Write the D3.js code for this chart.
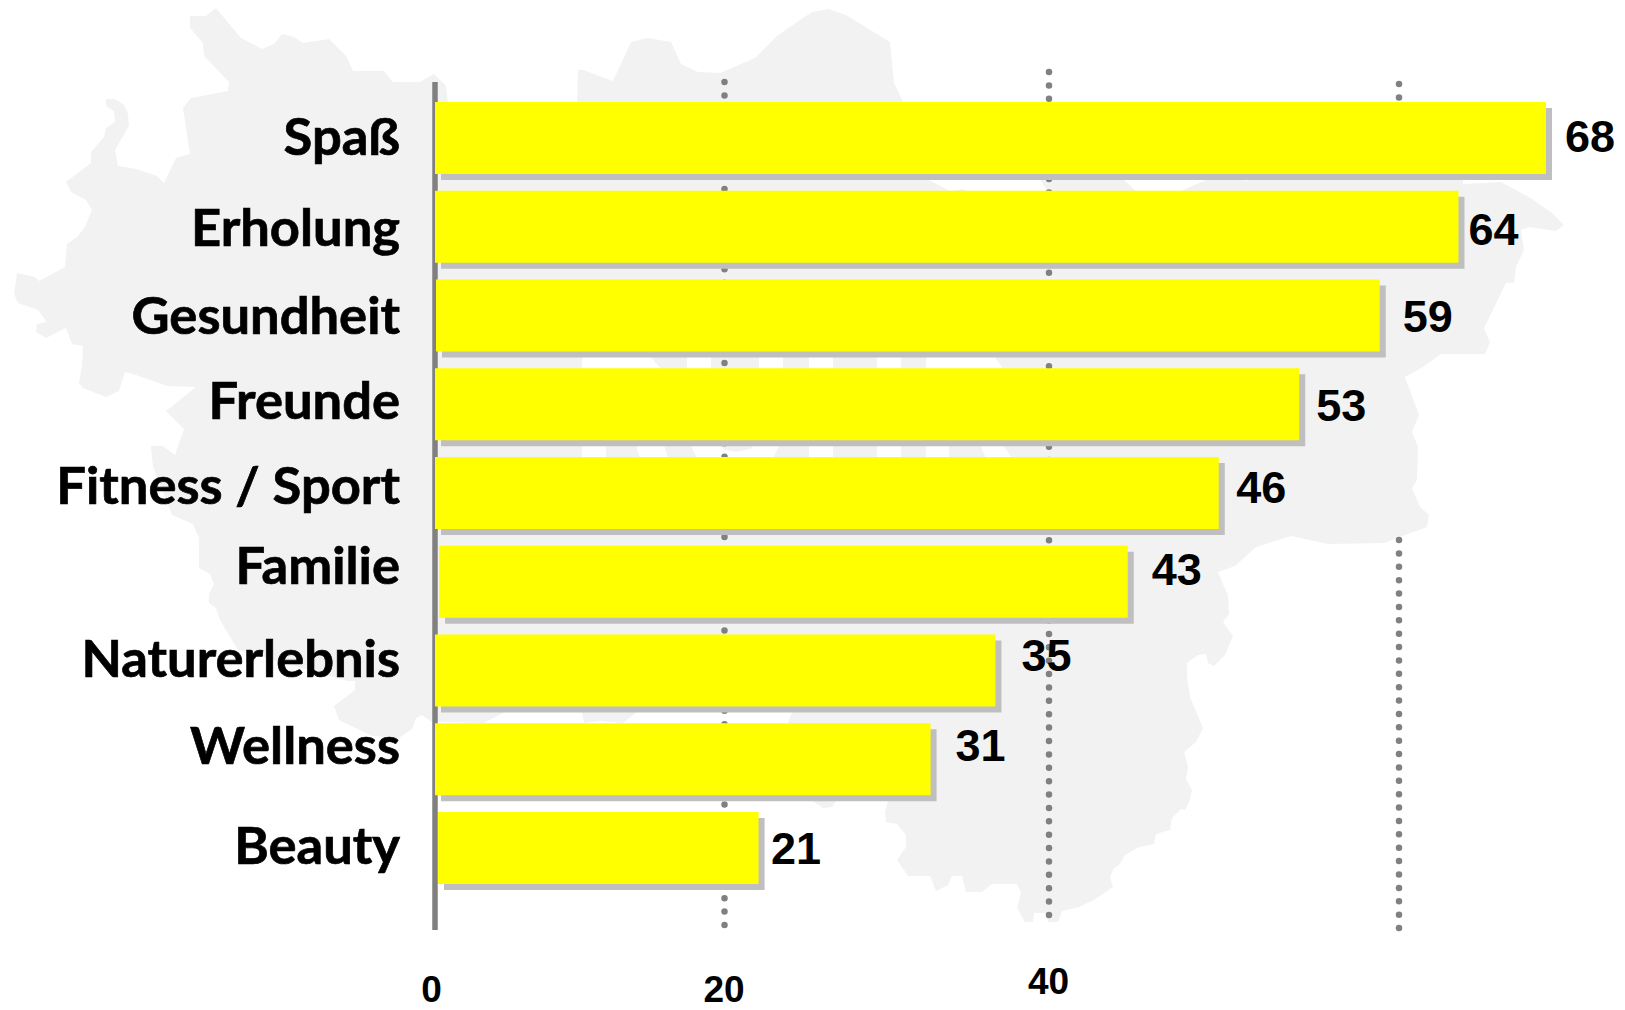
<!DOCTYPE html>
<html lang="de">
<head>
<meta charset="utf-8">
<title>Motive</title>
<script src="https://cdn.jsdelivr.net/npm/d3@7"></script>
<style>
  body { margin: 0; background: #fff; }
  svg { display: block; }
  .cat-axis text { font-family: Lato, sans-serif; font-weight: 700; font-size: 52.5px; fill: #000; stroke: #000; stroke-width: 0.7px; }
  .value-label { font-family: "Liberation Sans", Arial, sans-serif; font-weight: 700; font-size: 45px; fill: #000; }
  .num-axis text { font-family: "Liberation Sans", Arial, sans-serif; font-weight: 700; font-size: 37px; fill: #000; }
</style>
</head>
<body>
<div id="chart"></div>
<script>
const categories = ["Spaß", "Erholung", "Gesundheit", "Freunde", "Fitness / Sport", "Familie", "Naturerlebnis", "Wellness", "Beauty"];
// printed on the chart
const valueLabels = [68, 64, 59, 53, 46, 43, 35, 31, 21];
// where the bars really end / start against the axis, the bars were drawn by hand
const barEnds = [68.4, 63.4, 58.9, 54.3, 49.7, 44.5, 36.7, 32.7, 22.1];
const barStarts = [0, 0, 0.07, 0, 0, 0.28, 0, 0, 0.21];
const tickValues = [0, 20, 40, 60];
const tickLabels = ["0", "20", "40", ""];

// label placement, the source has no regular offsets
const catLabelDy = [17, 19, 18, 15, 11, 2, 6, 5, 16];
const valueLabelDx = [19, 10, 23, 17, 17.5, 24, 26, 25, 12.5];
const valueLabelDy = [14, 18, 16, 17, 10, 3, 0, 2, 16];
const tickLabelDx = [-4, -1, -1, 0];
const tickLabelBaseline = [1002, 1002, 994, 994];
// [tick, top, bottom] of each dotted run, the 60 line is broken in the source
const gridRuns = [[20, 82, 926], [40, 72, 916], [60, 84, 100], [60, 540, 929]];

// background map, traced
const mapOutline = [
  [434,74],[446,86],[448,103],[577,103],[578,70],[583,70],[613,81],[631,42],[648,38],[671,42],[681,64],[698,72],[720,73],
  [755,58],[777,36],[800,20],[812,12],[828,9],[846,15],[890,42],[894,83],[903,102],[927,179],[950,191],[963,189],[970,193],
  [1048,193],[1040,179],[1060,130],[1105,130],[1123,179],[1138,193],[1176,193],[1208,179],[1240,170],[1246,182],[1252,170],
  [1463,170],[1463,184],[1501,182],[1529,197],[1552,213],[1564,225],[1556,231],[1529,227],[1521,230],[1524,250],[1516,267],
  [1514,283],[1506,283],[1484,328],[1490,342],[1485,354],[1441,354],[1423,367],[1405,377],[1419,415],[1412,432],[1418,447],
  [1417,480],[1412,488],[1420,507],[1429,515],[1427,527],[1384,543],[1328,544],[1291,536],[1256,547],[1235,566],[1218,572],
  [1228,596],[1229,614],[1223,622],[1233,636],[1225,655],[1214,666],[1208,663],[1206,654],[1198,655],[1187,663],[1187,677],
  [1190,697],[1203,728],[1196,742],[1184,752],[1188,767],[1186,779],[1192,790],[1189,802],[1185,810],[1181,809],[1172,818],
  [1170,830],[1156,834],[1154,844],[1139,847],[1125,855],[1120,864],[1114,868],[1110,877],[1113,887],[1094,900],[1079,907],
  [1062,911],[1058,922],[1048,922],[1045,913],[1034,913],[1033,922],[1025,922],[1017,908],[1021,893],[1017,884],[992,884],
  [982,892],[966,892],[962,876],[952,876],[948,885],[936,891],[930,876],[908,876],[897,860],[906,847],[906,835],[897,824],
  [886,822],[885,812],[888,801],[870,780],[850,780],[836,801],[832,807],[823,808],[813,801],[800,760],[788,723],[792,712],
  [780,700],[650,700],[637,712],[623,723],[600,721],[584,723],[582,712],[575,700],[530,700],[505,712],[484,723],[438,722],
  [432,722],[422,715],[416,718],[412,729],[399,738],[372,736],[339,720],[334,706],[355,690],[355,681],[348,681],[238,650],
  [220,620],[216,608],[209,603],[209,594],[214,584],[210,574],[199,568],[199,538],[193,524],[172,515],[153,467],[151,446],
  [163,446],[175,455],[184,429],[166,411],[196,387],[167,386],[136,375],[125,372],[119,391],[106,397],[83,388],[79,383],
  [82,365],[83,346],[72,344],[66,328],[46,338],[36,332],[37,324],[47,322],[38,310],[18,303],[14,294],[17,273],[35,277],
  [39,281],[65,267],[67,244],[77,237],[85,227],[92,210],[86,200],[71,192],[66,182],[91,163],[91,152],[104,137],[106,128],
  [115,122],[114,111],[106,106],[106,99],[115,99],[124,105],[128,114],[129,126],[115,150],[118,166],[136,169],[157,176],
  [164,183],[176,158],[190,154],[183,108],[191,98],[228,91],[229,82],[204,56],[203,43],[190,28],[190,16],[206,16],[216,8],
  [241,38],[262,49],[274,44],[282,34],[294,37],[303,43],[329,39],[346,56],[353,71],[384,71],[393,82],[420,82]
];
// white lettering cut out of the map, mostly hidden by the bars
const mapHoles = [
  [[582,350],[645,350],[662,370],[606,430],[606,458],[582,458]],
  [[635,441],[663,441],[668,458],[640,458]],
  [[687,350],[711,350],[711,370],[687,370]],
  [[759,350],[783,350],[783,370],[759,370]],
  [[690,444],[717,444],[725,450],[737,452],[750,449],[756,444],[780,444],[773,458],[697,458]],
  [[809,350],[833,350],[833,458],[809,458]],
  [[877,350],[901,350],[901,458],[877,458]],
  [[926,350],[990,350],[1004,370],[949,410],[949,458],[926,458]],
  [[978,441],[1000,441],[1012,458],[986,458]]
];

const width = 1625;
const height = 1010;
const shadowOffset = 6;

const svg = d3.select("#chart").append("svg")
  .attr("width", width)
  .attr("height", height);

// the axis of the source is not evenly spaced, so the scale has a stop per tick
const x = d3.scaleLinear()
  .domain(tickValues)
  .range([435, 724.5, 1049, 1399]);

const y = d3.scaleBand()
  .domain(categories)
  .range([102, 884])
  .paddingInner(16.75 / 88.75)
  .paddingOuter(0);

const line = d3.line();

// map
svg.append("path")
  .attr("d", line(mapOutline) + "Z")
  .attr("fill", "#f2f2f2");
svg.selectAll(".map-hole")
  .data(mapHoles)
  .join("path")
  .attr("class", "map-hole")
  .attr("d", d => line(d) + "Z")
  .attr("fill", "#fff");

// dotted grid
svg.selectAll(".grid")
  .data(gridRuns)
  .join("line")
  .attr("class", "grid")
  .attr("x1", d => x(d[0]))
  .attr("x2", d => x(d[0]))
  .attr("y1", d => d[1])
  .attr("y2", d => d[2])
  .attr("stroke", "#808080")
  .attr("stroke-width", 6.5)
  .attr("stroke-linecap", "round")
  .attr("stroke-dasharray", "0 13.38");

// vertical axis line
svg.append("line")
  .attr("x1", x(0))
  .attr("x2", x(0))
  .attr("y1", 82)
  .attr("y2", 930)
  .attr("stroke", "#808080")
  .attr("stroke-width", 5.5);

// shadows, then bars
svg.selectAll(".bar-shadow")
  .data(categories)
  .join("rect")
  .attr("class", "bar-shadow")
  .attr("x", (d, i) => x(barStarts[i]) + shadowOffset)
  .attr("y", d => y(d) + shadowOffset)
  .attr("width", (d, i) => x(barEnds[i]) - x(barStarts[i]))
  .attr("height", y.bandwidth())
  .attr("fill", "#bfbfbf");

svg.selectAll(".bar")
  .data(categories)
  .join("rect")
  .attr("class", "bar")
  .attr("x", (d, i) => x(barStarts[i]))
  .attr("y", d => y(d))
  .attr("width", (d, i) => x(barEnds[i]) - x(barStarts[i]))
  .attr("height", y.bandwidth())
  .attr("fill", "#ffff00");

svg.selectAll(".value-label")
  .data(valueLabels)
  .join("text")
  .attr("class", "value-label")
  .attr("x", (d, i) => x(barEnds[i]) + valueLabelDx[i])
  .attr("y", (d, i) => y(categories[i]) + y.bandwidth() / 2 + valueLabelDy[i])
  .text(d => d);

// category labels
const catAxis = svg.append("g")
  .attr("class", "cat-axis")
  .attr("transform", "translate(400,0)")
  .call(d3.axisLeft(y).tickSize(0).tickPadding(0));
catAxis.select(".domain").remove();
catAxis.selectAll("text")
  .attr("dy", 0)
  .attr("y", (d, i) => catLabelDy[i]);

// bottom tick labels
const numAxis = svg.append("g")
  .attr("class", "num-axis")
  .call(d3.axisBottom(x).tickValues(tickValues).tickSize(0).tickFormat((d, i) => tickLabels[i]));
numAxis.select(".domain").remove();
numAxis.selectAll("text")
  .attr("dy", 0)
  .attr("x", (d, i) => tickLabelDx[i])
  .attr("y", (d, i) => tickLabelBaseline[i]);
</script>
</body>
</html>
